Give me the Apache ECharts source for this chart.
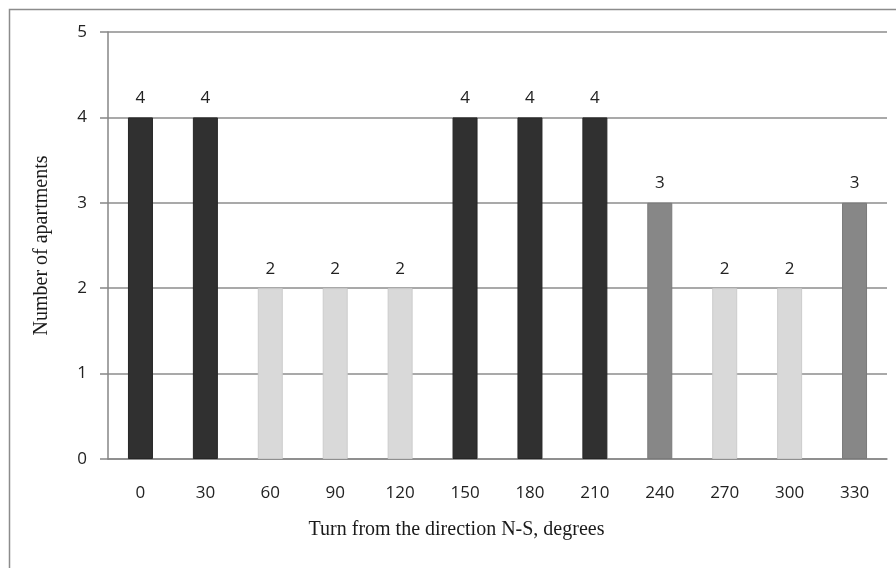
<!DOCTYPE html>
<html>
<head>
<meta charset="utf-8">
<script src="https://cdn.jsdelivr.net/npm/echarts@6/dist/echarts.min.js"></script>
<style>
html,body{margin:0;padding:0;background:#fff;}
#chart{width:896px;height:568px;}
</style>
</head>
<body>
<div id="chart"></div>
<script>
const categories = ['0','30','60','90','120','150','180','210','240','270','300','330'];
const apartments = [4,4,2,2,2,4,4,4,3,2,2,3];
const yTicks = [0,1,2,3,4,5];

const shadeByValue = {4:'#303030', 3:'#878787', 2:'#d9d9d9'};
const edgeByValue = {4:'#262626', 3:'#7a7a7a', 2:'#cccccc'};

const chart = echarts.init(document.getElementById('chart'));
chart.setOption({
  animation:false,
  backgroundColor:'#fff',
  graphic:[{
    type:'rect',
    shape:{x:9.5,y:9.5,width:900,height:600},
    style:{fill:'none',stroke:'#8c8c8c',lineWidth:1.5}
  }],
  grid:{left:108,right:9,top:32,bottom:109},
  xAxis:{
    type:'category',
    data:categories,
    name:'Turn from the direction N-S, degrees',
    nameLocation:'middle',
    nameGap:61,
    nameTextStyle:{fontFamily:'Liberation Serif',fontSize:20,color:'#1a1a1a',padding:[0,82,0,0]},
    axisLine:{lineStyle:{color:'#868686',width:1.5}},
    axisTick:{show:false},
    axisLabel:{margin:26,fontFamily:'Open Sans',fontSize:17,color:'#222'}
  },
  yAxis:{
    type:'value',
    min:0,max:5,interval:1,
    name:'Number of apartments',
    nameLocation:'middle',
    nameGap:56,
    nameTextStyle:{fontFamily:'Liberation Serif',fontSize:20,color:'#1a1a1a'},
    axisLine:{show:true,lineStyle:{color:'#868686',width:1.5}},
    axisTick:{show:true,length:8,lineStyle:{color:'#868686',width:1.5}},
    axisLabel:{margin:21,fontFamily:'Open Sans',fontSize:17,color:'#222',
      formatter:v=>yTicks.includes(v)?String(v):''},
    splitLine:{lineStyle:{color:'#8c8c8c',width:1.5}}
  },
  series:[{
    type:'bar',
    barWidth:25,
    data:apartments.map(v=>({value:v,itemStyle:{color:shadeByValue[v],borderColor:edgeByValue[v],borderWidth:1}})),
    label:{show:true,position:'top',distance:11,fontFamily:'Open Sans',fontSize:17,color:'#222'}
  }]
});
</script>
</body>
</html>
